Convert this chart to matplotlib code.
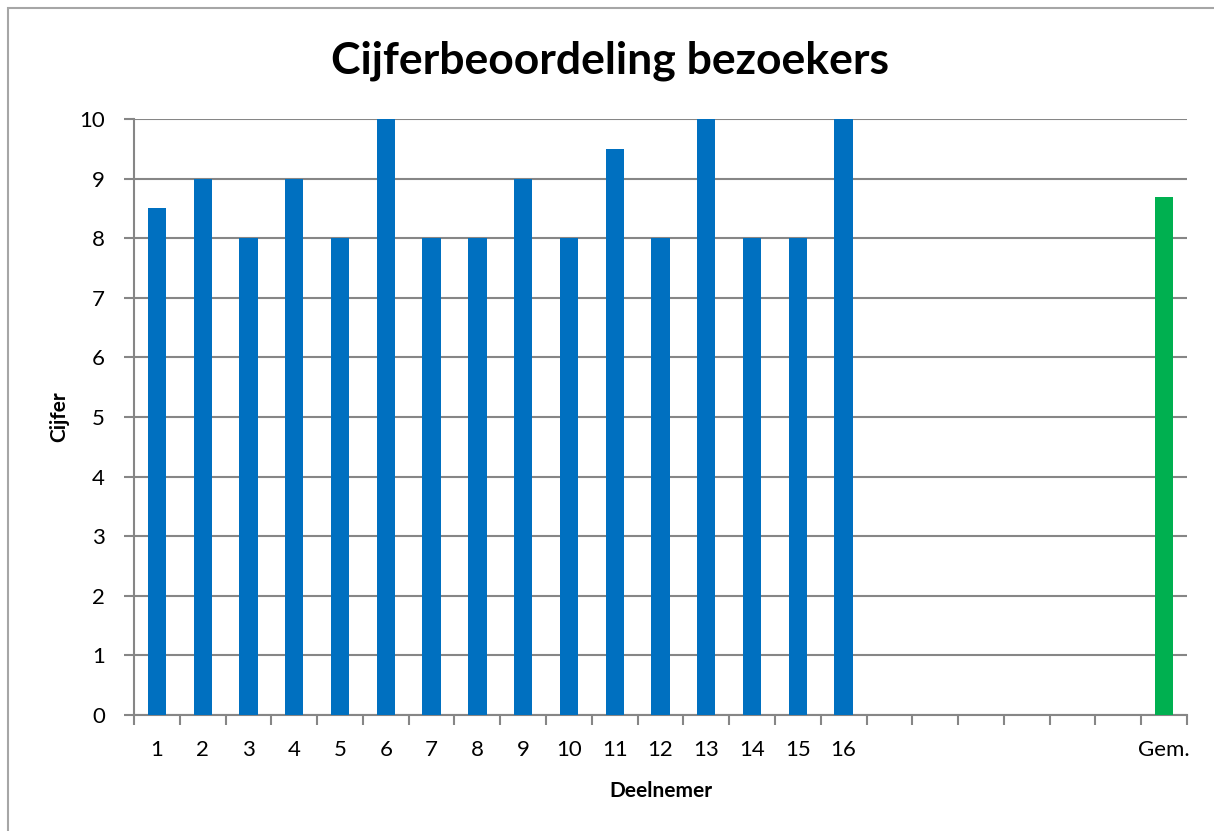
import matplotlib.pyplot as plt
from matplotlib.patches import Rectangle

# Data
deelnemers = [str(i) for i in range(1, 17)]
cijfers = [8.5, 9, 8, 9, 8, 10, 8, 8, 9, 8, 9.5, 8, 10, 8, 8, 10]
leeg = ['', '', '', '', '', '']
gemiddelde = sum(cijfers) / len(cijfers)

labels = deelnemers + leeg + ['Gem.']
n = len(labels)

plt.rcParams['font.family'] = ['Lato', 'DejaVu Sans']

fig = plt.figure(figsize=(12.14, 8.31), dpi=100)
ax = fig.add_axes([134 / 1214, 1 - 715 / 831, (1187 - 134) / 1214, (715 - 119) / 831])

# outer chart border (only top and left edges fall inside the image)
fig.patches.append(Rectangle((8 / 1214, -20 / 831), 1240 / 1214, 843 / 831,
                             transform=fig.transFigure, fill=False,
                             edgecolor='#a6a6a6', linewidth=1.5))

x = list(range(n))
ax.bar(x[:16], cijfers, width=0.4, color='#0070C0', zorder=3)
ax.bar([n - 1], [gemiddelde], width=0.4, color='#00B050', zorder=3)

ax.set_xlim(-0.5, n - 0.5)
ax.set_ylim(0, 10)
ax.set_yticks(range(0, 11))
ax.set_xticks(x)
ax.set_xticklabels(labels, fontsize=16)
ax.tick_params(axis='x', length=0, pad=18)
ax.tick_params(axis='y', labelsize=16, length=7, color='#868686', width=1.5, pad=14)

# category boundary ticks
ax.set_xticks([i - 0.5 for i in range(n + 1)], minor=True)
ax.tick_params(axis='x', which='minor', length=7, color='#868686', width=1.5)

ax.grid(axis='y', color='#868686', linewidth=1.5, zorder=0)
for s in ['top', 'right']:
    ax.spines[s].set_visible(False)
for s in ['left', 'bottom']:
    ax.spines[s].set_color('#868686')
    ax.spines[s].set_linewidth(1.5)

ax.set_ylabel('Cijfer', fontsize=15, fontweight='bold', labelpad=7)
ax.set_xlabel('Deelnemer', fontsize=15, fontweight='bold', labelpad=15)
fig.text(610 / 1214, 1 - 61 / 831, 'Cijferbeoordeling bezoekers', fontsize=32,
         fontweight='bold', ha='center', va='center')

fig.savefig('out.png', dpi=100)
